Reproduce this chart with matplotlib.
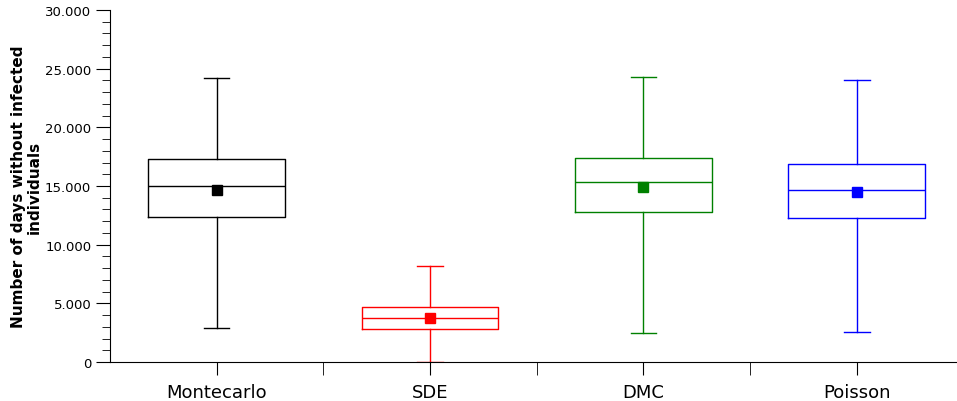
import matplotlib
matplotlib.use("Agg")
import matplotlib.pyplot as plt
from matplotlib.ticker import MultipleLocator, FuncFormatter

categories = ["Montecarlo", "SDE", "DMC", "Poisson"]
colors = ["black", "red", "green", "blue"]
whis_low = [2900, 0, 2470, 2580]
q1 = [12360, 2810, 12800, 12250]
median = [15000, 3780, 15300, 14660]
q3 = [17300, 4660, 17400, 16850]
whis_high = [24200, 8200, 24300, 24000]
mean = [14700, 3750, 14950, 14500]

fig = plt.figure(figsize=(9.57, 4.02), dpi=100)
ax = fig.add_axes([110 / 957, 39 / 402, 847 / 957, 352 / 402])

for i in range(len(categories)):
    stats = [{"whislo": whis_low[i], "q1": q1[i], "med": median[i], "q3": q3[i],
              "whishi": whis_high[i], "mean": mean[i], "fliers": []}]
    c = colors[i]
    ax.bxp(stats, positions=[i], widths=0.64, showmeans=True, patch_artist=False,
           boxprops=dict(color=c, linewidth=1),
           medianprops=dict(color=c, linewidth=1),
           whiskerprops=dict(color=c, linewidth=1),
           capprops=dict(color=c, linewidth=1),
           meanprops=dict(marker="s", markerfacecolor=c, markeredgecolor=c, markersize=7),
           capwidths=0.12)

ax.set_xlim(-0.5, 3.47)
ax.set_ylim(0, 30000)
ax.spines["top"].set_visible(False)
ax.spines["right"].set_visible(False)

ax.set_xticks(range(len(categories)))
ax.set_xticklabels(categories, fontsize=13)
ax.set_xticks([0.5, 1.5, 2.5], minor=True)
ax.tick_params(axis="x", which="major", length=9, direction="out", pad=6)
ax.tick_params(axis="x", which="minor", length=9, direction="out")

ax.yaxis.set_major_locator(MultipleLocator(5000))
ax.yaxis.set_minor_locator(MultipleLocator(1000))
ax.yaxis.set_major_formatter(FuncFormatter(lambda v, p: "0" if v == 0 else f"{int(v):,}".replace(",", ".")))
ax.tick_params(axis="y", which="major", length=10, labelsize=9.5)
ax.tick_params(axis="y", which="minor", length=6)

ax.set_ylabel("Number of days without infected\nindividuals", fontsize=11, fontweight="bold",
              linespacing=1.1, labelpad=2)

fig.savefig("out.png", dpi=100)
